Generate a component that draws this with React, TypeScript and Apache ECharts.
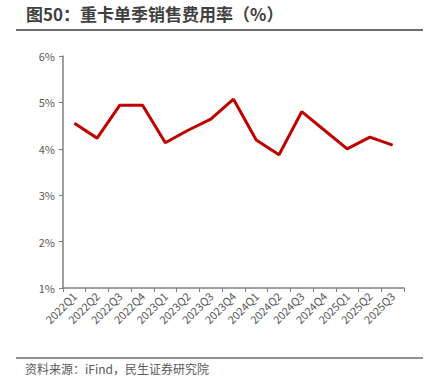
import React, { useEffect, useRef } from "react";
import * as echarts from "echarts";

const categories = [
  "2022Q1", "2022Q2", "2022Q3", "2022Q4",
  "2023Q1", "2023Q2", "2023Q3", "2023Q4",
  "2024Q1", "2024Q2", "2024Q3", "2024Q4",
  "2025Q1", "2025Q2", "2025Q3",
];
const salesExpenseRate = [
  4.55, 4.23, 4.94, 4.94,
  4.13, 4.40, 4.64, 5.07,
  4.19, 3.87, 4.80, 4.40,
  4.00, 4.25, 4.08,
];
const titleText = "图50：重卡单季销售费用率（%）";
const sourceText = "资料来源：iFind，民生证券研究院";

const FONT = '"Noto Sans CJK SC", "Noto Sans", sans-serif';

export default function App() {
  const ref = useRef<HTMLDivElement>(null);
  useEffect(() => {
    if (!ref.current) return;
    const chart = echarts.init(ref.current, null, { renderer: "svg" });
    chart.setOption({
      animation: false,
      backgroundColor: "#ffffff",
      textStyle: { fontFamily: FONT },
      grid: { left: 63, right: 30, top: 56, bottom: 104, containLabel: false },
      graphic: [
        {
          type: "text",
          left: 26,
          top: 5,
          style: { text: titleText, font: `bold 17px ${FONT}`, fill: "#404040" },
        },
        {
          type: "line",
          shape: { x1: 16, y1: 30, x2: 423, y2: 30 },
          style: { stroke: "#6e6e6e", lineWidth: 2 },
        },
        {
          type: "line",
          shape: { x1: 16, y1: 358, x2: 423, y2: 358 },
          style: { stroke: "#6e6e6e", lineWidth: 1.5 },
        },
        {
          type: "text",
          left: 25,
          top: 362,
          style: { text: sourceText, font: `12px ${FONT}`, fill: "#595959" },
        },
      ],
      xAxis: {
        type: "category",
        data: categories,
        boundaryGap: true,
        axisLine: { lineStyle: { color: "#808080", width: 1.5 } },
        axisTick: { show: true, length: 4, lineStyle: { color: "#808080" } },
        axisLabel: { rotate: 45, color: "#595959", fontSize: 11, margin: 6, fontFamily: FONT, interval: 0 },
      },
      yAxis: {
        type: "value",
        min: 1,
        max: 6,
        interval: 1,
        axisLine: { show: true, lineStyle: { color: "#808080", width: 1.5 } },
        axisTick: { show: true, length: 4, lineStyle: { color: "#808080" } },
        splitLine: { show: false },
        axisLabel: { color: "#595959", fontSize: 11, margin: 8, fontFamily: FONT, formatter: "{value}%" },
      },
      series: [
        {
          type: "line",
          data: salesExpenseRate,
          symbol: "none",
          lineStyle: { color: "#C00000", width: 3 },
          itemStyle: { color: "#C00000" },
        },
      ],
    });
    return () => chart.dispose();
  }, []);
  return (
    <div
      ref={ref}
      style={{ position: "fixed", left: 0, top: 0, width: 434, height: 392 }}
    />
  );
}
